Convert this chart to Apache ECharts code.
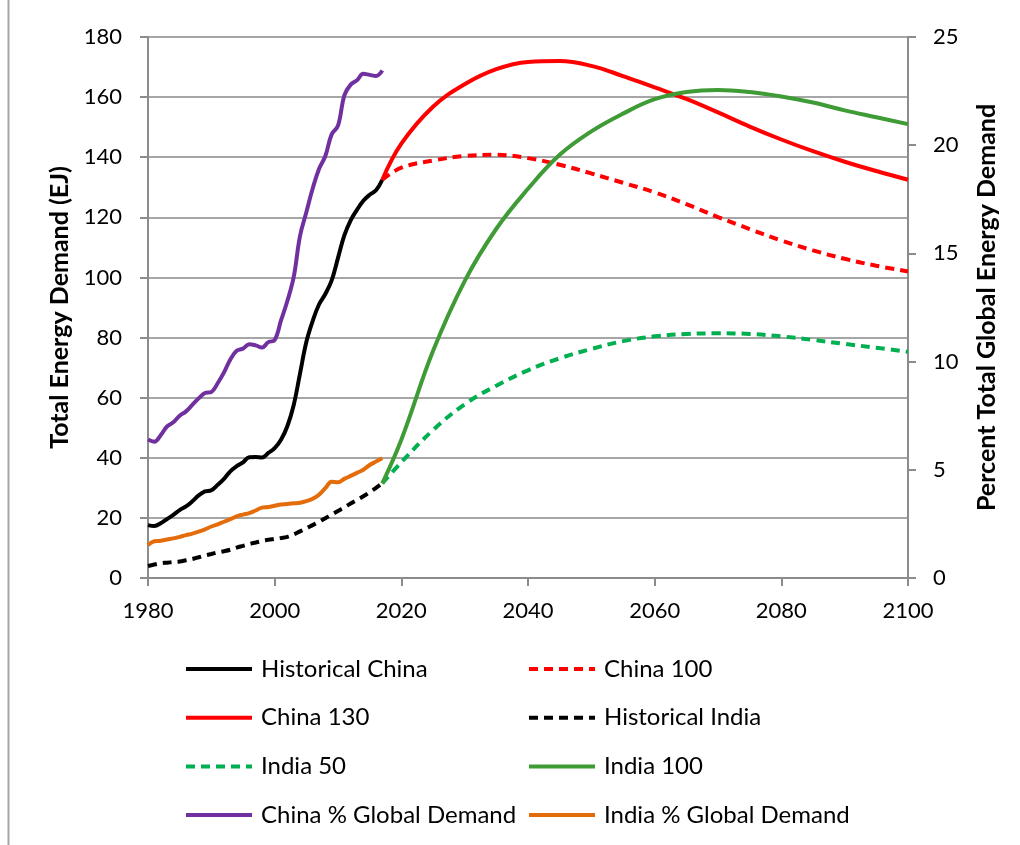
<!DOCTYPE html>
<html>
<head>
<meta charset="utf-8">
<title>Total Energy Demand — China and India</title>
<script src="https://cdn.jsdelivr.net/npm/echarts@6/dist/echarts.min.js"></script>
<style>
  html, body { margin: 0; padding: 0; background: #ffffff; }
  #chart { width: 1020px; height: 845px; }
</style>
</head>
<body>
<div id="chart"></div>
<script>
// Historical years (annual)
const histYears = [1980, 1981, 1982, 1983, 1984, 1985, 1986, 1987, 1988, 1989,
                   1990, 1991, 1992, 1993, 1994, 1995, 1996, 1997, 1998, 1999,
                   2000, 2001, 2002, 2003, 2004, 2005, 2006, 2007, 2008, 2009,
                   2010, 2011, 2012, 2013, 2014, 2015, 2016, 2017];

// Total energy demand, EJ
const historicalChina = [17.6, 17.3, 18.2, 19.6, 21.0, 22.6, 23.8, 25.5, 27.5, 28.8,
                         29.2, 31.0, 33.0, 35.5, 37.2, 38.5, 40.2, 40.3, 40.1, 41.6,
                         43.2, 46.0, 50.5, 57.5, 68.0, 78.5, 85.5, 91.0, 94.5, 99.0,
                         106.5, 114.0, 119.0, 122.5, 125.5, 127.5, 129.0, 132.5];
const historicalIndia = [4.0, 4.5, 4.9, 5.1, 5.3, 5.5, 5.9, 6.3, 6.9, 7.5,
                         8.0, 8.5, 8.9, 9.4, 10.1, 10.7, 11.3, 11.8, 12.3, 12.7,
                         13.0, 13.3, 13.7, 14.5, 15.5, 16.5, 17.6, 18.7, 19.9, 21.1,
                         22.3, 23.5, 24.8, 26.0, 27.2, 28.5, 30.0, 31.5];

// Share of global energy demand, %
const chinaShare = [6.4, 6.3, 6.6, 7.0, 7.2, 7.5, 7.7, 8.0, 8.3, 8.55,
                    8.6, 9.0, 9.5, 10.1, 10.5, 10.6, 10.8, 10.75, 10.65, 10.9,
                    11.0, 11.9, 12.8, 13.9, 15.8, 16.9, 18.0, 18.9, 19.5, 20.5,
                    20.9, 22.3, 22.8, 23.0, 23.3, 23.25, 23.2, 23.45];
const indiaShare = [1.52, 1.7, 1.72, 1.78, 1.83, 1.9, 1.98, 2.05, 2.14, 2.25,
                    2.38, 2.48, 2.6, 2.72, 2.85, 2.93, 3.0, 3.12, 3.25, 3.28,
                    3.34, 3.4, 3.42, 3.45, 3.48, 3.55, 3.66, 3.85, 4.15, 4.45,
                    4.42, 4.58, 4.72, 4.86, 5.0, 5.22, 5.38, 5.53];

// Projection years
const projYears = [2017, 2020, 2025, 2030, 2035, 2040, 2045, 2050, 2055,
                   2060, 2065, 2070, 2075, 2080, 2085, 2090, 2095, 2100];

// Projected total energy demand, EJ
const china100 = [132.5, 136.5, 138.9, 140.4, 140.8, 139.7, 137.5, 134.6, 131.5,
                  128.3, 124.4, 120.1, 116.1, 112.3, 109.0, 106.2, 103.9, 102.0];
const china130 = [132.5, 144.5, 156.8, 164.3, 169.3, 171.7, 172.0, 170.4, 167.0,
                  163.2, 159.4, 154.9, 150.2, 145.9, 142.0, 138.5, 135.4, 132.5];
const india50  = [31.5, 38.5, 49.2, 57.8, 64.0, 69.1, 73.1, 76.2, 78.8,
                  80.4, 81.2, 81.4, 81.2, 80.4, 79.2, 77.9, 76.6, 75.3];
const india100 = [31.5, 46.0, 75.5, 98.8, 116.2, 129.5, 140.8, 148.6, 154.5,
                  159.3, 161.7, 162.4, 161.7, 160.2, 158.2, 155.6, 153.3, 151.0];

// Axis ticks
const xTicks = { min: 1980, max: 2100, step: 20 };
const leftTicks = { min: 0, max: 180, step: 20 };
const rightTicks = { min: 0, max: 25, step: 5 };

const FONT = 'Lato, "Open Sans", sans-serif';
const AXIS_GRAY = '#8c8c8c';
const GRID_GRAY = '#a6a6a6';
const LINE_W = 4;

function pairs(xs, ys) { return xs.map((x, i) => [x, ys[i]]); }

function lineSeries(name, xs, ys, color, dashed, axis) {
  return {
    name: name,
    type: 'line',
    yAxisIndex: axis,
    data: pairs(xs, ys),
    symbol: 'none',
    smooth: 0.4,
    animation: false,
    lineStyle: {
      color: color,
      width: LINE_W,
      type: dashed ? [9, 6] : 'solid',
      cap: 'butt'
    },
    itemStyle: { color: color }
  };
}

const chart = echarts.init(document.getElementById('chart'), null, { renderer: 'canvas' });

const legendCommon = {
  orient: 'vertical',
  top: 657,
  padding: 0,
  itemWidth: 66,
  itemHeight: 14,
  itemGap: 24.7,
  selectedMode: false,
  itemStyle: { opacity: 0 },
  lineStyle: { width: LINE_W },
  textStyle: { fontFamily: FONT, fontSize: 24, color: '#000', lineHeight: 24, padding: [0, 0, 0, 4] }
};

chart.setOption({
  backgroundColor: '#ffffff',
  animation: false,
  grid: { left: 148, right: 112, top: 37, bottom: 267 },
  legend: [
    Object.assign({}, legendCommon, {
      left: 184,
      data: ['Historical China', 'China 130', 'India 50', 'China % Global Demand']
    }),
    Object.assign({}, legendCommon, {
      left: 527,
      data: ['China 100', 'Historical India', 'India 100', 'India % Global Demand']
    })
  ],
  xAxis: {
    type: 'value',
    min: xTicks.min,
    max: xTicks.max,
    interval: xTicks.step,
    axisLine: { show: true, lineStyle: { color: AXIS_GRAY, width: 2 } },
    axisTick: { show: true, inside: false, length: 8, lineStyle: { color: AXIS_GRAY, width: 2 } },
    axisLabel: { fontFamily: FONT, fontSize: 22, color: '#000', margin: 22, formatter: v => String(v) },
    splitLine: { show: false }
  },
  yAxis: [
    {
      type: 'value',
      position: 'left',
      min: leftTicks.min,
      max: leftTicks.max,
      interval: leftTicks.step,
      name: 'Total Energy Demand (EJ)',
      nameLocation: 'middle',
      nameRotate: 90,
      nameGap: 72,
      nameTextStyle: { fontFamily: FONT, fontSize: 25, fontWeight: 'bold', color: '#000' },
      axisLine: { show: true, lineStyle: { color: AXIS_GRAY, width: 2 } },
      axisTick: { show: true, inside: false, length: 8, lineStyle: { color: AXIS_GRAY, width: 2 } },
      axisLabel: { fontFamily: FONT, fontSize: 22, color: '#000', margin: 26 },
      splitLine: { show: true, lineStyle: { color: GRID_GRAY, width: 2 } }
    },
    {
      type: 'value',
      position: 'right',
      min: rightTicks.min,
      max: rightTicks.max,
      interval: rightTicks.step,
      name: 'Percent Total Global Energy Demand',
      nameLocation: 'middle',
      nameRotate: 90,
      nameGap: 66,
      nameTextStyle: { fontFamily: FONT, fontSize: 25, fontWeight: 'bold', color: '#000' },
      axisLine: { show: true, lineStyle: { color: AXIS_GRAY, width: 2 } },
      axisTick: { show: true, inside: false, length: 8, lineStyle: { color: AXIS_GRAY, width: 2 } },
      axisLabel: { fontFamily: FONT, fontSize: 22, color: '#000', margin: 25 },
      splitLine: { show: false }
    }
  ],
  graphic: [
    {
      type: 'line',
      shape: { x1: 8.5, y1: 0, x2: 8.5, y2: 845 },
      style: { stroke: '#a6a6a6', lineWidth: 2 },
      silent: true
    }
  ],
  series: [
    lineSeries('Historical China', histYears, historicalChina, '#000000', false, 0),
    lineSeries('China 100', projYears, china100, '#ff0000', true, 0),
    lineSeries('China 130', projYears, china130, '#ff0000', false, 0),
    lineSeries('Historical India', histYears, historicalIndia, '#000000', true, 0),
    lineSeries('India 50', projYears, india50, '#00b050', true, 0),
    lineSeries('India 100', projYears, india100, '#3f9b35', false, 0),
    lineSeries('China % Global Demand', histYears, chinaShare, '#7030a0', false, 1),
    lineSeries('India % Global Demand', histYears, indiaShare, '#e46c0a', false, 1)
  ]
});
</script>
</body>
</html>
